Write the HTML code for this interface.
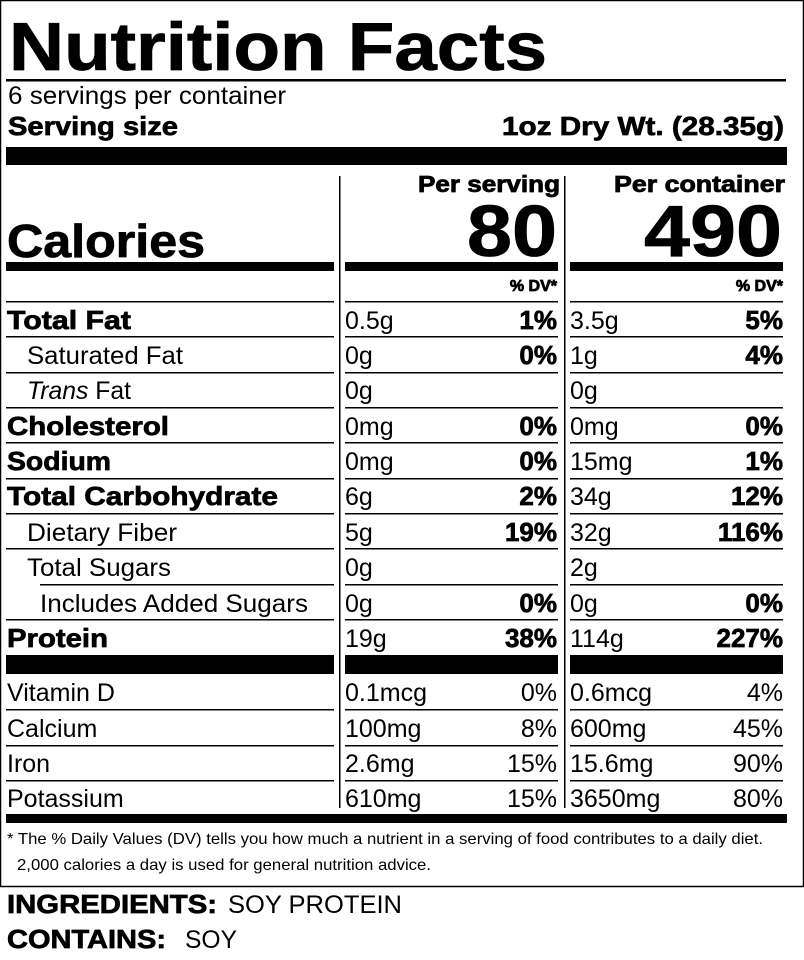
<!DOCTYPE html>
<html><head><meta charset="utf-8"><style>
html,body{margin:0;padding:0;background:#fff;}
svg{display:block;}
text{font-family:"Liberation Sans",Arial,sans-serif;fill:#000;}
.b{font-weight:bold;stroke:#000;stroke-width:0.8;}
.r{font-size:25px;}
.bb{font-size:26px;font-weight:bold;stroke:#000;stroke-width:0.7;}
</style></head><body>
<svg width="804" height="960" viewBox="0 0 804 960" xmlns="http://www.w3.org/2000/svg">
<rect x="0.5" y="0.5" width="803" height="886" fill="none" stroke="#000" stroke-width="1.5"/>
<text x="9" y="70" class="b" font-size="68" stroke-width="1.6" textLength="538" lengthAdjust="spacingAndGlyphs">Nutrition Facts</text>
<rect x="6" y="79" width="780" height="2.5" fill="#000"/>
<text x="8" y="104" class="r" textLength="278" lengthAdjust="spacingAndGlyphs">6 servings per container</text>
<text x="8" y="135" class="bb" textLength="170" lengthAdjust="spacingAndGlyphs">Serving size</text>
<text x="784" y="135" class="bb" text-anchor="end" textLength="282" lengthAdjust="spacingAndGlyphs">1oz Dry Wt. (28.35g)</text>
<rect x="6" y="147" width="781" height="18" fill="#000"/>
<rect x="339" y="176" width="1.5" height="632" fill="#000"/>
<rect x="564" y="176" width="1.5" height="632" fill="#000"/>
<text x="560" y="192" class="b" font-size="23" text-anchor="end" textLength="142" lengthAdjust="spacingAndGlyphs">Per serving</text>
<text x="785" y="192" class="b" font-size="23" text-anchor="end" textLength="171" lengthAdjust="spacingAndGlyphs">Per container</text>
<text x="557" y="256" class="b" font-size="72" stroke-width="1.5" text-anchor="end" textLength="90" lengthAdjust="spacingAndGlyphs">80</text>
<text x="782" y="256" class="b" font-size="72" stroke-width="1.5" text-anchor="end" textLength="138" lengthAdjust="spacingAndGlyphs">490</text>
<text x="7" y="257" class="b" font-size="46" stroke-width="1.2" textLength="198" lengthAdjust="spacingAndGlyphs">Calories</text>
<rect x="6" y="262" width="328" height="9" fill="#000"/>
<rect x="345" y="262" width="213" height="9" fill="#000"/>
<rect x="570" y="262" width="213" height="9" fill="#000"/>
<text x="557" y="291" class="b" font-size="16" stroke-width="0.4" text-anchor="end">% DV*</text>
<text x="783" y="291" class="b" font-size="16" stroke-width="0.4" text-anchor="end">% DV*</text>
<g fill="#000">
<rect x="6" y="301" width="328" height="1.5"/><rect x="345" y="301" width="213" height="1.5"/><rect x="570" y="301" width="213" height="1.5"/>
<rect x="6" y="336" width="328" height="1.5"/><rect x="345" y="336" width="213" height="1.5"/><rect x="570" y="336" width="213" height="1.5"/>
<rect x="6" y="372" width="328" height="1.5"/><rect x="345" y="372" width="213" height="1.5"/><rect x="570" y="372" width="213" height="1.5"/>
<rect x="6" y="407" width="328" height="1.5"/><rect x="345" y="407" width="213" height="1.5"/><rect x="570" y="407" width="213" height="1.5"/>
<rect x="6" y="442" width="328" height="1.5"/><rect x="345" y="442" width="213" height="1.5"/><rect x="570" y="442" width="213" height="1.5"/>
<rect x="6" y="478" width="328" height="1.5"/><rect x="345" y="478" width="213" height="1.5"/><rect x="570" y="478" width="213" height="1.5"/>
<rect x="6" y="513" width="328" height="1.5"/><rect x="345" y="513" width="213" height="1.5"/><rect x="570" y="513" width="213" height="1.5"/>
<rect x="6" y="548" width="328" height="1.5"/><rect x="345" y="548" width="213" height="1.5"/><rect x="570" y="548" width="213" height="1.5"/>
<rect x="40" y="584" width="294" height="1.5"/><rect x="345" y="584" width="213" height="1.5"/><rect x="570" y="584" width="213" height="1.5"/>
<rect x="6" y="619" width="328" height="1.5"/><rect x="345" y="619" width="213" height="1.5"/><rect x="570" y="619" width="213" height="1.5"/>
<rect x="6" y="655" width="328" height="19"/><rect x="345" y="655" width="213" height="19"/><rect x="570" y="655" width="213" height="19"/>
<rect x="6" y="709" width="328" height="1.5"/><rect x="345" y="709" width="213" height="1.5"/><rect x="570" y="709" width="213" height="1.5"/>
<rect x="6" y="745" width="328" height="1.5"/><rect x="345" y="745" width="213" height="1.5"/><rect x="570" y="745" width="213" height="1.5"/>
<rect x="6" y="780" width="328" height="1.5"/><rect x="345" y="780" width="213" height="1.5"/><rect x="570" y="780" width="213" height="1.5"/>
<rect x="6" y="814" width="781" height="9"/>
</g>
<g>
<text x="7" y="329" class="bb" textLength="124" lengthAdjust="spacingAndGlyphs">Total Fat</text>
<text x="345" y="329" class="r">0.5g</text><text x="557" y="329" class="bb" text-anchor="end">1%</text>
<text x="570" y="329" class="r">3.5g</text><text x="783" y="329" class="bb" text-anchor="end">5%</text>

<text x="27" y="364" class="r" textLength="156" lengthAdjust="spacingAndGlyphs">Saturated Fat</text>
<text x="345" y="364" class="r">0g</text><text x="557" y="364" class="bb" text-anchor="end">0%</text>
<text x="570" y="364" class="r">1g</text><text x="783" y="364" class="bb" text-anchor="end">4%</text>

<text x="27" y="399" class="r" textLength="104" lengthAdjust="spacingAndGlyphs"><tspan font-style="italic">Trans</tspan> Fat</text>
<text x="345" y="399" class="r">0g</text><text x="570" y="399" class="r">0g</text>

<text x="7" y="435" class="bb" textLength="162" lengthAdjust="spacingAndGlyphs">Cholesterol</text>
<text x="345" y="435" class="r">0mg</text><text x="557" y="435" class="bb" text-anchor="end">0%</text>
<text x="570" y="435" class="r">0mg</text><text x="783" y="435" class="bb" text-anchor="end">0%</text>

<text x="7" y="470" class="bb" textLength="104" lengthAdjust="spacingAndGlyphs">Sodium</text>
<text x="345" y="470" class="r">0mg</text><text x="557" y="470" class="bb" text-anchor="end">0%</text>
<text x="570" y="470" class="r">15mg</text><text x="783" y="470" class="bb" text-anchor="end">1%</text>

<text x="7" y="505" class="bb" textLength="271" lengthAdjust="spacingAndGlyphs">Total Carbohydrate</text>
<text x="345" y="505" class="r">6g</text><text x="557" y="505" class="bb" text-anchor="end">2%</text>
<text x="570" y="505" class="r">34g</text><text x="783" y="505" class="bb" text-anchor="end">12%</text>

<text x="27" y="541" class="r" textLength="150" lengthAdjust="spacingAndGlyphs">Dietary Fiber</text>
<text x="345" y="541" class="r">5g</text><text x="557" y="541" class="bb" text-anchor="end">19%</text>
<text x="570" y="541" class="r">32g</text><text x="783" y="541" class="bb" text-anchor="end">116%</text>

<text x="27" y="576" class="r" textLength="144" lengthAdjust="spacingAndGlyphs">Total Sugars</text>
<text x="345" y="576" class="r">0g</text><text x="570" y="576" class="r">2g</text>

<text x="40" y="612" class="r" textLength="268" lengthAdjust="spacingAndGlyphs">Includes Added Sugars</text>
<text x="345" y="612" class="r">0g</text><text x="557" y="612" class="bb" text-anchor="end">0%</text>
<text x="570" y="612" class="r">0g</text><text x="783" y="612" class="bb" text-anchor="end">0%</text>

<text x="7" y="647" class="bb" textLength="101" lengthAdjust="spacingAndGlyphs">Protein</text>
<text x="345" y="647" class="r">19g</text><text x="557" y="647" class="bb" text-anchor="end">38%</text>
<text x="570" y="647" class="r">114g</text><text x="783" y="647" class="bb" text-anchor="end">227%</text>

<text x="7" y="701" class="r">Vitamin D</text>
<text x="345" y="701" class="r">0.1mcg</text><text x="557" y="701" class="r" text-anchor="end">0%</text>
<text x="570" y="701" class="r">0.6mcg</text><text x="783" y="701" class="r" text-anchor="end">4%</text>

<text x="7" y="737" class="r">Calcium</text>
<text x="345" y="737" class="r">100mg</text><text x="557" y="737" class="r" text-anchor="end">8%</text>
<text x="570" y="737" class="r">600mg</text><text x="783" y="737" class="r" text-anchor="end">45%</text>

<text x="7" y="772" class="r">Iron</text>
<text x="345" y="772" class="r">2.6mg</text><text x="557" y="772" class="r" text-anchor="end">15%</text>
<text x="570" y="772" class="r">15.6mg</text><text x="783" y="772" class="r" text-anchor="end">90%</text>

<text x="7" y="807" class="r">Potassium</text>
<text x="345" y="807" class="r">610mg</text><text x="557" y="807" class="r" text-anchor="end">15%</text>
<text x="570" y="807" class="r">3650mg</text><text x="783" y="807" class="r" text-anchor="end">80%</text>
</g>
<text x="7" y="844" font-size="16" textLength="756" lengthAdjust="spacingAndGlyphs">* The % Daily Values (DV) tells you how much a nutrient in a serving of food contributes to a daily diet.</text>
<text x="17" y="870" font-size="16" textLength="414" lengthAdjust="spacingAndGlyphs">2,000 calories a day is used for general nutrition advice.</text>
<text x="7" y="913" class="bb" font-size="27" textLength="210" lengthAdjust="spacingAndGlyphs">INGREDIENTS:</text>
<text x="228" y="913" class="r" font-size="26" textLength="174" lengthAdjust="spacingAndGlyphs">SOY PROTEIN</text>
<text x="7" y="948" class="bb" font-size="27" textLength="159" lengthAdjust="spacingAndGlyphs">CONTAINS:</text>
<text x="185" y="948" class="r" font-size="26" textLength="52" lengthAdjust="spacingAndGlyphs">SOY</text>
</svg>
</body></html>
